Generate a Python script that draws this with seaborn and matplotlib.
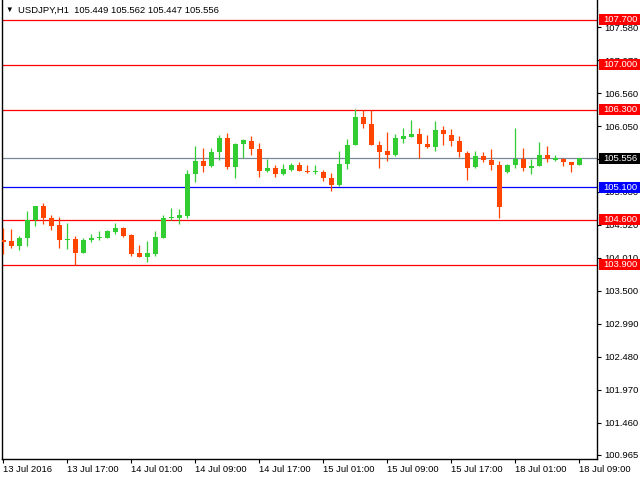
import numpy as np
import pandas as pd
import matplotlib
matplotlib.use("Agg")
import matplotlib.pyplot as plt
import seaborn as sns
from matplotlib.patches import Rectangle
from matplotlib.transforms import blended_transform_factory

# ---------------- data ----------------
symbol = "USDJPY"
timeframe = "H1"

opens = [104.294, 104.273, 104.201, 104.310, 104.599, 104.816, 104.630, 104.522, 104.279, 104.304,
         104.092, 104.279, 104.310, 104.325, 104.413, 104.475, 104.366, 104.087, 104.030, 104.077,
         104.325, 104.620, 104.620, 104.661, 105.302, 105.514, 105.426, 105.643, 105.871, 105.411,
         105.767, 105.824, 105.700, 105.349, 105.406, 105.302, 105.375, 105.452, 105.359, 105.333,
         105.344, 105.250, 105.132, 105.457, 105.752, 106.197, 106.088, 105.762, 105.669, 105.597,
         105.855, 105.886, 105.933, 105.778, 105.721, 105.995, 105.917, 105.824, 105.638, 105.411,
         105.592, 105.530, 105.452, 105.333, 105.442, 105.545, 105.395, 105.426, 105.607, 105.519,
         105.545, 105.499, 105.449]
highs = [104.480, 104.459, 104.351, 104.739, 104.820, 104.863, 104.677, 104.646, 104.553, 104.351,
         104.320, 104.382, 104.428, 104.444, 104.553, 104.490, 104.382, 104.211, 104.273, 104.428,
         104.677, 104.785, 104.770, 105.375, 105.747, 105.716, 105.716, 105.917, 105.948, 105.793,
         105.855, 105.902, 105.793, 105.545, 105.452, 105.468, 105.483, 105.499, 105.452, 105.452,
         105.375, 105.328, 105.669, 105.855, 106.321, 106.300, 106.300, 105.824, 105.964, 105.933,
         106.026, 106.150, 106.026, 105.917, 106.135, 106.057, 106.010, 105.902, 105.669, 105.669,
         105.654, 105.700, 105.514, 105.468, 106.026, 105.716, 105.545, 105.809, 105.747, 105.607,
         105.561, 105.499, 105.562]
lows = [104.071, 104.170, 104.139, 104.201, 104.511, 104.542, 104.434, 104.170, 104.154, 103.896,
        104.085, 104.263, 104.279, 104.310, 104.382, 104.335, 104.046, 104.030, 103.948, 104.046,
        104.310, 104.599, 104.527, 104.620, 105.178, 105.333, 105.420, 105.519, 105.380, 105.240,
        105.561, 105.597, 105.256, 105.333, 105.256, 105.287, 105.349, 105.349, 105.318, 105.302,
        105.194, 105.039, 105.116, 105.380, 105.752, 106.016, 105.752, 105.395, 105.504, 105.581,
        105.783, 105.876, 105.550, 105.705, 105.659, 105.752, 105.736, 105.566, 105.209, 105.395,
        105.488, 105.364, 104.620, 105.318, 105.395, 105.349, 105.302, 105.426, 105.488, 105.504,
        105.426, 105.333, 105.447]
closes = [104.263, 104.201, 104.320, 104.589, 104.816, 104.620, 104.511, 104.279, 104.304, 104.092,
          104.289, 104.320, 104.335, 104.428, 104.475, 104.351, 104.077, 104.030, 104.087, 104.335,
          104.630, 104.635, 104.677, 105.313, 105.514, 105.426, 105.654, 105.871, 105.411, 105.778,
          105.840, 105.700, 105.349, 105.406, 105.302, 105.390, 105.452, 105.349, 105.333, 105.344,
          105.240, 105.132, 105.468, 105.762, 106.197, 106.078, 105.752, 105.654, 105.597, 105.871,
          105.902, 105.933, 105.767, 105.721, 105.995, 105.923, 105.814, 105.643, 105.395, 105.592,
          105.519, 105.442, 104.790, 105.452, 105.545, 105.395, 105.437, 105.607, 105.535, 105.550,
          105.488, 105.442, 105.556]

time_labels = ["13 Jul 2016", "13 Jul 17:00", "14 Jul 01:00", "14 Jul 09:00", "14 Jul 17:00",
               "15 Jul 01:00", "15 Jul 09:00", "15 Jul 17:00", "18 Jul 01:00", "18 Jul 09:00"]
price_ticks = [107.580, 107.070, 106.560, 106.050, 105.540, 105.030, 104.520, 104.010,
               103.500, 102.990, 102.480, 101.970, 101.460, 100.965]
red_levels = [107.700, 107.000, 106.300, 104.600, 103.900]
blue_levels = [105.100]

# ---------------- style ----------------
sns.set_theme(style="white")
plt.rcParams["font.family"] = ["Liberation Sans", "DejaVu Sans"]

UP = "#32CD32"
DOWN = "#FF4500"
FS = 6.8

df = pd.DataFrame({"open": opens, "high": highs, "low": lows, "close": closes})
df["x"] = np.arange(len(df))
df["up"] = df["close"] >= df["open"]
df["color"] = np.where(df["up"], UP, DOWN)
df["bottom"] = df[["open", "close"]].min(axis=1)
df["height"] = np.maximum((df["close"] - df["open"]).abs(), 0.016)

fig = plt.figure(figsize=(6.4, 4.8), dpi=100)
ax = fig.add_axes([2 / 640, 1 - 458.5 / 480, 595 / 640, 458.5 / 480])
ax.set_facecolor("white")

# wicks
ax.vlines(df["x"], df["low"], df["high"], colors=df["color"], lw=0.9, zorder=3)
# bodies
ax.bar(df["x"], df["height"], bottom=df["bottom"], width=0.625,
       color=df["color"], linewidth=0, zorder=4)

# horizontal levels
current = closes[-1]
for lv in red_levels:
    ax.axhline(lv, color="#FF0000", lw=0.9, zorder=2)
for lv in blue_levels:
    ax.axhline(lv, color="#0000FF", lw=0.9, zorder=2)
ax.axhline(current, color="#778899", lw=0.9, zorder=2)

ax.set_xlim(-0.1875, 74.19)
ax.set_ylim(100.904, 108.002)

# axes / ticks
ax.yaxis.tick_right()
ax.set_yticks(price_ticks)
ax.set_yticklabels([f"{v:.3f}" for v in price_ticks])
ax.set_xticks(df["x"].iloc[::8])
ax.set_xticklabels(time_labels, ha="left")
ax.tick_params(axis="y", which="major", direction="out", length=3, width=0.8,
               pad=2, labelsize=FS, colors="black", right=True, left=False)
ax.tick_params(axis="x", which="major", direction="out", length=3, width=0.8,
               pad=1.5, labelsize=FS, colors="black", bottom=True)
for side in ["left", "right", "bottom"]:
    ax.spines[side].set_visible(True)
    ax.spines[side].set_color("black")
    ax.spines[side].set_linewidth(1.0)
ax.spines["top"].set_visible(False)
ax.grid(False)

# price label boxes on the right axis
trans = blended_transform_factory(fig.transFigure, ax.transData)
box_h = 11 / 64.6
boxes = [(lv, "#FF0000") for lv in red_levels] + [(lv, "#0000FF") for lv in blue_levels] \
    + [(current, "#000000")]
for lv, col in boxes:
    rect = Rectangle((599 / 640, lv - box_h / 2), 41 / 640, box_h, transform=trans,
                     facecolor=col, edgecolor="none", clip_on=False, zorder=20)
    ax.add_patch(rect)
    ax.text(603 / 640, lv, f"{lv:.3f}", transform=trans, color="white", fontsize=FS,
            ha="left", va="center", clip_on=False, zorder=21)

# title
title = f"{symbol},{timeframe}  {opens[-1]:.3f} {highs[-1]:.3f} {lows[-1]:.3f} {closes[-1]:.3f}"
fig.text(5 / 640, 1 - 10.5 / 480, "\u25bc", fontsize=5.5, color="black", ha="left", va="center")
fig.text(18 / 640, 1 - 10.5 / 480, title, fontsize=FS, color="black", ha="left", va="center")

fig.savefig("out.png", dpi=100, facecolor="white")
